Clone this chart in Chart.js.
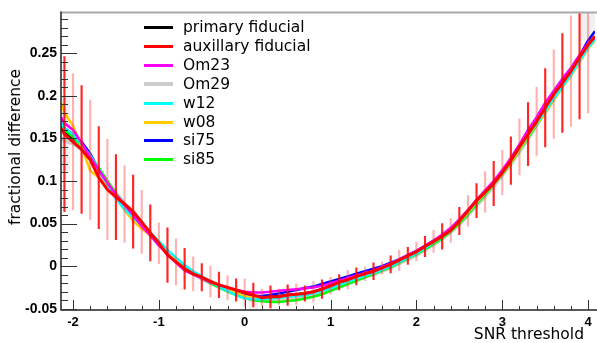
<!DOCTYPE html>
<html>
<head>
<meta charset="utf-8">
<script src="https://cdn.jsdelivr.net/npm/chart.js@4.4.1/dist/chart.umd.min.js"></script>
<style>
  body { margin: 0; background: #fff; }
  #wrap { position: relative; width: 597px; height: 343px; }
  #grafico { position: absolute; left: 0; top: 0; }
  .fila { position: absolute; left: 144px; height: 19px; font: 15.5px "DejaVu Sans", sans-serif; color: #000; white-space: nowrap; }
  .fila span.linea { position: absolute; left: 0; top: 8px; width: 29px; height: 3px; }
  .fila span.texto { position: absolute; left: 39px; top: 0; line-height: 19px; }
  .titulo { position: absolute; font: 15.5px "DejaVu Sans", sans-serif; color: #000; white-space: nowrap; }
</style>
</head>
<body>
<div id="wrap">
  <canvas id="grafico" width="597" height="343"></canvas>
  <div id="leyenda"></div>
  <div class="titulo" id="tituloY" style="left:15px;top:147px;transform:translate(-50%,-50%) rotate(-90deg);">fractional difference</div>
  <div class="titulo" id="tituloX" style="right:13px;top:325px;">SNR threshold</div>
</div>
<script>
// SNR threshold (x) - mismo eje para todas las curvas
const snr = [-2.14, -2.1, -2.0, -1.9, -1.8, -1.7, -1.6, -1.5, -1.4, -1.3, -1.2, -1.1, -1.0, -0.9, -0.8, -0.7, -0.6, -0.5, -0.4, -0.3, -0.2, -0.1,
  0.0, 0.1, 0.2, 0.3, 0.4, 0.5, 0.6, 0.7, 0.8, 0.9, 1.0, 1.1, 1.2, 1.3, 1.4, 1.5, 1.6, 1.7, 1.8, 1.9,
  2.0, 2.1, 2.2, 2.3, 2.4, 2.5, 2.6, 2.7, 2.8, 2.9, 3.0, 3.1, 3.2, 3.3, 3.4, 3.5, 3.6, 3.7, 3.8, 3.9, 4.0, 4.08];

const primaryFiducial = [.165, .158, .150, .140, .127, .111, .096, .083, .071, .060, .049, .038, .027, .016, .007, -.001, -.008, -.013, -.018, -.023, -.027, -.031,
  -.034, -.036, -.037, -.036, -.035, -.034, -.033, -.032, -.030, -.027, -.024, -.020, -.017, -.013, -.010, -.006, -.003, .002, .006, .011,
  .016, .022, .028, .035, .043, .052, .064, .076, .087, .098, .110, .123, .138, .154, .169, .184, .200, .214, .228, .244, .259, .269];

const auxFiducial = [.162, .155, .146, .137, .125, .104, .090, .081, .073, .064, .052, .039, .027, .013, .005, -.003, -.009, -.013, -.018, -.022, -.025, -.028,
  -.031, -.034, -.037, -.036, -.036, -.034, -.033, -.032, -.030, -.027, -.023, -.019, -.016, -.012, -.009, -.006, -.002, .002, .007, .012,
  .017, .023, .029, .035, .042, .053, .065, .077, .087, .097, .110, .124, .140, .155, .170, .186, .202, .215, .229, .245, .260, .270];

// barras de error de la auxiliar (mitad de la longitud), null en los bordes
const auxErr = [null, .091, .080, .075, .070, .060, .059, .050, .045, .043, .037, .033, .024, .032, .027, .024, .020, .016, .018, .015, .014, .013,
  .016, .014, .010, .013, .009, .012, .012, .009, .012, .011, .010, .009, .011, .010, .008, .010, .007, .010, .012, .010,
  .011, .012, .013, .015, .014, .016, .018, .020, .024, .026, .026, .028, .033, .037, .040, .046, .052, .058, .065, .072, .080, null];

const om23 = [.175, .168, .160, .145, .128, .113, .098, .084, .072, .060, .047, .036, .024, .014, .004, -.005, -.010, -.014, -.019, -.022, -.025, -.028,
  -.030, -.031, -.031, -.030, -.029, -.028, -.027, -.026, -.025, -.023, -.020, -.017, -.014, -.011, -.008, -.005, -.001, .003, .008, .013,
  .018, .024, .030, .037, .045, .055, .066, .078, .089, .100, .113, .127, .143, .160, .175, .192, .206, .220, .233, .248, .262, .268];

const om29 = [.150, .148, .145, .138, .127, .112, .098, .085, .072, .060, .049, .038, .027, .016, .007, -.002, -.008, -.014, -.019, -.024, -.028, -.032,
  -.036, -.039, -.040, -.040, -.039, -.038, -.037, -.036, -.034, -.031, -.027, -.024, -.020, -.016, -.012, -.009, -.005, -.001, .004, .009,
  .014, .020, .026, .033, .041, .050, .061, .072, .083, .095, .108, .121, .136, .151, .167, .182, .198, .212, .226, .242, .258, .267];

const w12 = [.168, .162, .155, .143, .130, .114, .096, .079, .067, .057, .048, .039, .029, .019, .010, .001, -.006, -.012, -.018, -.024, -.029, -.034,
  -.038, -.039, -.039, -.038, -.037, -.036, -.035, -.034, -.032, -.029, -.026, -.022, -.018, -.015, -.011, -.008, -.004, .000, .005, .010,
  .015, .021, .028, .035, .043, .053, .064, .076, .087, .098, .111, .124, .139, .154, .168, .182, .197, .211, .225, .241, .257, .266];

const w08 = [.192, .180, .165, .140, .112, .104, .094, .080, .066, .053, .044, .036, .027, .017, .008, .000, -.007, -.013, -.018, -.023, -.027, -.031,
  -.035, -.037, -.038, -.037, -.036, -.035, -.034, -.033, -.031, -.028, -.025, -.021, -.018, -.014, -.010, -.007, -.003, .001, .006, .011,
  .016, .022, .028, .035, .043, .052, .063, .075, .086, .097, .109, .122, .137, .153, .167, .180, .195, .210, .224, .240, .256, .265];

const si75 = [.168, .162, .155, .146, .132, .113, .098, .084, .072, .061, .050, .039, .028, .018, .008, .000, -.007, -.013, -.018, -.023, -.027, -.030,
  -.033, -.035, -.035, -.034, -.032, -.030, -.028, -.026, -.024, -.021, -.018, -.015, -.012, -.009, -.006, -.003, .000, .004, .008, .013,
  .018, .024, .030, .036, .043, .053, .065, .077, .088, .098, .110, .123, .139, .155, .170, .186, .202, .216, .230, .247, .265, .276];

const si85 = [.166, .160, .152, .141, .128, .116, .100, .085, .072, .060, .049, .039, .029, .018, .009, .000, -.008, -.014, -.020, -.025, -.030, -.034,
  -.037, -.040, -.041, -.042, -.042, -.041, -.040, -.038, -.036, -.033, -.029, -.025, -.021, -.017, -.013, -.009, -.005, -.001, .004, .009,
  .014, .020, .026, .033, .041, .050, .061, .073, .084, .096, .108, .121, .136, .151, .166, .180, .196, .211, .226, .242, .258, .268];

// cajas grises (error de Om29) que se ven en los bordes
const om29CajaX = [-2.09, 0.10, 3.97, 4.06];
const om29CajaMin = [0.112, -0.052, 0.266, 0.262];
const om29CajaMax = [0.200, -0.034, 0.298, 0.298];

const xTicks = [-2, -1, 0, 1, 2, 3, 4];
const yTicks = [-0.05, 0, 0.05, 0.1, 0.15, 0.2, 0.25];
const yTickLabels = ["-0.05", "0", "0.05", "0.1", "0.15", "0.2", "0.25"];

const series = [
  { nombre: "primary fiducial", datos: primaryFiducial, color: "#000000", orden: 8, ancho: 2.5 },
  { nombre: "auxillary fiducial", datos: auxFiducial, color: "#ff0000", orden: 0, ancho: 3 },
  { nombre: "Om23", datos: om23, color: "#ff00ff", orden: 2, ancho: 2.5 },
  { nombre: "Om29", datos: om29, color: "#cccccc", orden: 7, ancho: 5 },
  { nombre: "w12", datos: w12, color: "#00ffff", orden: 3, ancho: 2.5 },
  { nombre: "w08", datos: w08, color: "#ffcc00", orden: 4, ancho: 2.5 },
  { nombre: "si75", datos: si75, color: "#0000ff", orden: 6, ancho: 2.5 },
  { nombre: "si85", datos: si85, color: "#00ff00", orden: 5, ancho: 2.5 }
];

//LEYENDA en HTML
const leyenda = document.getElementById("leyenda");
series.forEach((s, i) => {
  const top = 18 + i * 18.9;
  leyenda.insertAdjacentHTML("beforeend",
    `<div class="fila" style="top:${top}px"><span class="linea" style="background:${s.color};${s.nombre === "Om29" ? "height:4px;top:7px;" : ""}"></span><span class="texto">${s.nombre}</span></div>`);
});

const datasets = series.map(s => ({
  type: "line",
  label: s.nombre,
  data: snr.map((x, i) => ({ x: x, y: s.datos[i] })),
  borderColor: s.color,
  borderWidth: s.ancho,
  pointRadius: 0,
  tension: 0,
  fill: false,
  order: s.orden
}));

datasets.push({
  type: "bar",
  label: "aux err",
  data: snr.map((x, i) => auxErr[i] === null ? null : { x: x, y: [auxFiducial[i] - auxErr[i], auxFiducial[i] + auxErr[i]] }).filter(d => d),
  backgroundColor: ctx => ctx.dataIndex % 2 === 0 ? "rgba(255,0,0,0.85)" : "rgba(255,60,60,0.4)",
  barThickness: 1.5,
  grouped: false,
  borderWidth: 0,
  order: 1
});

datasets.push({
  type: "bar",
  label: "om29 caja",
  data: om29CajaX.map((x, i) => ({ x: x, y: [om29CajaMin[i], om29CajaMax[i]] })),
  backgroundColor: "#f0f0f0",
  barThickness: 9,
  grouped: false,
  borderWidth: 0,
  order: 9
});

// ejes estilo ROOT: ticks hacia dentro
const ejesRoot = {
  id: "ejesRoot",
  afterDatasetsDraw(chart) {
    const { ctx, chartArea: a, scales: { x, y } } = chart;
    ctx.save();
    ctx.strokeStyle = "#aaaaaa";
    ctx.lineWidth = 2;
    ctx.beginPath();
    ctx.moveTo(a.left, a.top);
    ctx.lineTo(597, a.top);
    ctx.stroke();

    ctx.strokeStyle = "#222";
    ctx.lineWidth = 1.5;
    ctx.beginPath();
    ctx.moveTo(a.left, a.top - 1);
    ctx.lineTo(a.left, a.bottom);
    ctx.lineTo(a.right + 2, a.bottom);
    ctx.stroke();

    ctx.lineWidth = 1;
    ctx.strokeStyle = "#333";
    ctx.beginPath();
    for (let k = -5; k <= 29; k++) {
      const py = Math.round(y.getPixelForValue(k / 100)) + 0.5;
      const largo = k % 5 === 0 ? 16 : 7;
      ctx.moveTo(a.left, py);
      ctx.lineTo(a.left + largo, py);
    }
    for (let k = -10; k <= 20; k++) {
      const px = Math.round(x.getPixelForValue(k / 5)) + 0.5;
      const largo = k % 5 === 0 ? 10 : 4;
      ctx.moveTo(px, a.bottom);
      ctx.lineTo(px, a.bottom - largo);
    }
    ctx.stroke();
    ctx.restore();
  }
};

let grafica = document.getElementById("grafico").getContext("2d");

const chart = new Chart(grafica, {
  type: "line",
  data: { datasets: datasets },
  options: {
    responsive: false,
    animation: false,
    devicePixelRatio: 1,
    layout: { padding: { top: 5, right: 2, left: 0, bottom: 0 }, autoPadding: false },
    plugins: { legend: { display: false }, tooltip: { enabled: false } },
    scales: {
      x: {
        type: "linear",
        min: -2.14,
        max: 4.08,
        offset: false,
        grid: { display: false, drawTicks: false },
        border: { display: false },
        afterBuildTicks: axis => { axis.ticks = xTicks.map(v => ({ value: v })); },
        afterFit: axis => { axis.height = 33; },
        ticks: {
          autoSkip: false,
          maxRotation: 0,
          padding: 5,
          color: "#000",
          font: { family: "Liberation Sans", weight: "bold", size: 13 },
          callback: v => String(v)
        }
      },
      y: {
        type: "linear",
        min: -0.0515,
        max: 0.298,
        grid: { display: false, drawTicks: false },
        border: { display: false },
        afterBuildTicks: axis => { axis.ticks = yTicks.map(v => ({ value: v })); },
        afterFit: axis => { axis.width = 61; },
        ticks: {
          autoSkip: false,
          padding: 4,
          color: "#000",
          font: { family: "Liberation Sans", weight: "bold", size: 14 },
          callback: (v, i) => yTickLabels[i]
        }
      }
    }
  },
  plugins: [ejesRoot]
});
</script>
</body>
</html>
